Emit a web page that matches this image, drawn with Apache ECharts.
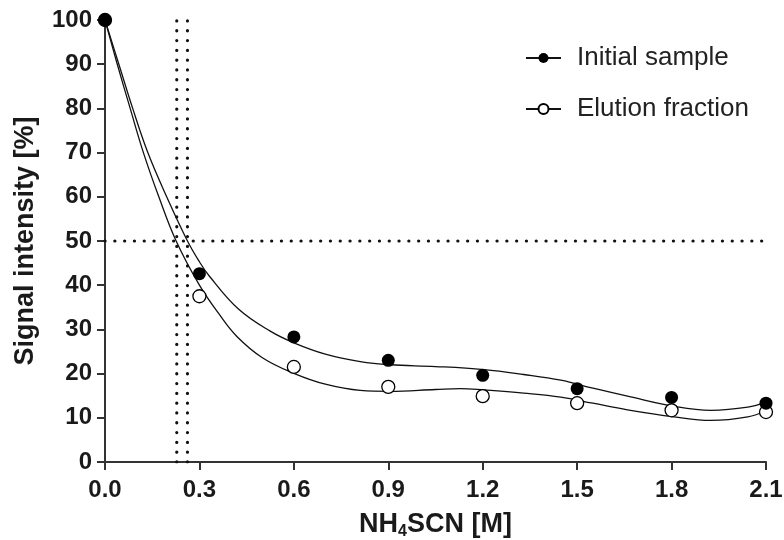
<!DOCTYPE html>
<html>
<head>
<meta charset="utf-8">
<script src="https://cdn.jsdelivr.net/npm/echarts@6/dist/echarts.min.js"></script>
<style>html,body{margin:0;padding:0;background:#fff}#c{width:784px;height:540px}</style>
</head>
<body>
<div id="c"></div>
<script>
// Measured points
const concentrations = [0, 0.3, 0.6, 0.9, 1.2, 1.5, 1.8, 2.1];
const initialSample = [100, 42.6, 28.3, 23.0, 19.6, 16.6, 14.6, 13.3];
const elutionFraction = [100, 37.5, 21.5, 17.0, 14.9, 13.3, 11.7, 11.3];
// Fitted curves: [x, y]
const initialFitX = [0, 0.044, 0.088, 0.136, 0.196, 0.262, 0.3, 0.33, 0.424, 0.525, 0.602, 0.7, 0.811, 0.905, 1.05, 1.204, 1.33, 1.448, 1.55, 1.66, 1.808, 1.925, 2.042, 2.1];
const initialFitY = [100, 90, 80, 70, 60, 50, 45.3, 42.2, 34.6, 29.6, 26.9, 24.4, 22.7, 22.0, 21.6, 20.9, 19.8, 18.5, 16.7, 14.9, 12.6, 11.7, 12.4, 13.6];
const elutionFitX = [0, 0.039, 0.08, 0.122, 0.171, 0.226, 0.3, 0.361, 0.419, 0.5, 0.602, 0.7, 0.811, 0.905, 1.05, 1.129, 1.204, 1.33, 1.448, 1.55, 1.66, 1.808, 1.925, 2.042, 2.1];
const elutionFitY = [100, 90, 80, 70, 60, 50, 40.0, 33.6, 28.4, 23.6, 20.0, 17.6, 16.2, 16.0, 16.4, 16.6, 16.3, 15.6, 14.7, 13.3, 11.8, 10.2, 9.4, 10.2, 11.6];
// Reference lines
const halfSignal = 50;
const ic50Initial = 0.262;
const ic50Elution = 0.228;
// Axes
const xTicks = ['0.0', '0.3', '0.6', '0.9', '1.2', '1.5', '1.8', '2.1'];
const yTicks = [0, 10, 20, 30, 40, 50, 60, 70, 80, 90, 100];

const zip = (xs, ys) => xs.map((x, i) => [x, ys[i]]);
const dotStyle = { color: '#111', width: 3.2, type: [0.1, 9.7], cap: 'round' };
const tickFont = { fontFamily: 'Liberation Sans', fontWeight: 'bold', fontSize: 24, color: '#1a1a1a' };

const chart = echarts.init(document.getElementById('c'), null, { renderer: 'canvas' });
chart.setOption({
  animation: false,
  backgroundColor: '#fff',
  grid: { left: 105, right: 18, top: 20, bottom: 78, containLabel: false, outerBoundsMode: 'none' },
  legend: {
    data: ['Initial sample', 'Elution fraction'],
    orient: 'vertical',
    left: 520,
    top: 38,
    itemWidth: 35,
    itemHeight: 12.5,
    itemGap: 21,
    textStyle: { fontFamily: 'Liberation Sans', fontSize: 26, color: '#222', lineHeight: 30, padding: [0, 0, 0, 11] }
  },
  xAxis: {
    type: 'value', min: 0, max: 2.1, interval: 0.3,
    name: 'NH{sub|4}SCN [M]', nameLocation: 'middle', nameGap: 48,
    nameTextStyle: {
      fontFamily: 'Liberation Sans', fontWeight: 'bold', fontSize: 27, color: '#1a1a1a',
      rich: { sub: { fontFamily: 'Liberation Sans', fontWeight: 'bold', fontSize: 16, color: '#1a1a1a', verticalAlign: 'bottom', padding: [14, 0, 0, 0] } }
    },
    splitLine: { show: false },
    axisLine: { lineStyle: { color: '#333', width: 2 } },
    axisTick: { length: 8, lineStyle: { color: '#333', width: 2 } },
    axisLabel: Object.assign({ margin: 16, formatter: (v) => xTicks[Math.round(v / 0.3)] }, tickFont)
  },
  yAxis: {
    type: 'value', min: 0, max: 100, interval: 10,
    name: 'Signal intensity [%]', nameLocation: 'middle', nameGap: 66, nameRotate: 90,
    nameTextStyle: { fontFamily: 'Liberation Sans', fontWeight: 'bold', fontSize: 27, color: '#1a1a1a' },
    splitLine: { show: false },
    axisLine: { show: true, lineStyle: { color: '#333', width: 2 } },
    axisTick: { show: true, length: 8, lineStyle: { color: '#333', width: 2 } },
    axisLabel: Object.assign({ margin: 13, formatter: (v) => String(yTicks[Math.round(v / 10)]) }, tickFont)
  },
  series: [
    {
      name: 'Initial sample', type: 'line', data: zip(initialFitX, initialFitY),
      smooth: 0.4, showSymbol: false, symbol: 'circle',
      itemStyle: { color: '#000' }, lineStyle: { color: '#111', width: 1.3 }, z: 2
    },
    {
      name: 'Elution fraction', type: 'line', data: zip(elutionFitX, elutionFitY),
      smooth: 0.4, showSymbol: false, symbol: 'circle',
      itemStyle: { color: '#fff', borderColor: '#000', borderWidth: 1.3 }, lineStyle: { color: '#111', width: 1.3 }, z: 2
    },
    {
      name: 'ref50', type: 'line', data: [[0, halfSignal], [2.1, halfSignal]],
      showSymbol: false, lineStyle: dotStyle, z: 1
    },
    {
      name: 'refA', type: 'line', data: [[ic50Elution, 0], [ic50Elution, 100]],
      showSymbol: false, lineStyle: dotStyle, z: 1
    },
    {
      name: 'refB', type: 'line', data: [[ic50Initial, 0], [ic50Initial, 100]],
      showSymbol: false, lineStyle: dotStyle, z: 1
    },
    {
      name: 'Elution fraction', type: 'scatter', data: zip(concentrations, elutionFraction),
      symbol: 'circle', symbolSize: 13,
      itemStyle: { color: '#fff', borderColor: '#000', borderWidth: 1.3, opacity: 1 }, z: 3
    },
    {
      name: 'Initial sample', type: 'scatter', data: zip(concentrations, initialSample),
      symbol: 'circle', symbolSize: 13,
      itemStyle: { color: '#000', opacity: 1 }, z: 4
    }
  ]
});
</script>
</body>
</html>
